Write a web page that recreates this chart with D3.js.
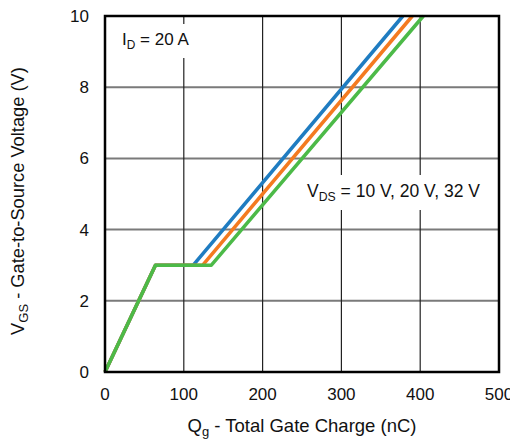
<!DOCTYPE html>
<html><head><meta charset="utf-8">
<script src="https://cdn.jsdelivr.net/npm/d3@7"></script>
<style>body{margin:0;background:#fff}svg{display:block}text{font-family:"Liberation Sans",Arial,sans-serif;fill:#111}</style>
</head><body><svg id="c" width="510" height="439"></svg>
<script>
const xTicks = [0,100,200,300,400,500];
const yTicks = [0,2,4,6,8,10];
const seriesNames = ["VDS = 10 V","VDS = 20 V","VDS = 32 V"];
const seriesColors = ["#1f7cc1","#f47a20","#4cba48"];
const qg10 = [0, 64, 112, 378];
const vgs10 = [0, 3, 3, 10];
const qg20 = [0, 64, 124, 390];
const vgs20 = [0, 3, 3, 10];
const qg32 = [0, 64, 135, 404];
const vgs32 = [0, 3, 3, 10];
const series = [[qg10,vgs10],[qg20,vgs20],[qg32,vgs32]];

const svg = d3.select("#c");
const L=105, R=499, T=16, B=372;
const x = d3.scaleLinear().domain([0,500]).range([L,R]);
const y = d3.scaleLinear().domain([0,10]).range([B,T]);

// grid
svg.append("g").selectAll("line").data(yTicks.slice(1,-1)).join("line")
  .attr("x1",L).attr("x2",R).attr("y1",d=>y(d)).attr("y2",d=>y(d))
  .attr("stroke","#7a7a7a").attr("stroke-width",2);
svg.append("g").selectAll("line").data(xTicks.slice(1,-1)).join("line")
  .attr("x1",d=>x(d)).attr("x2",d=>x(d)).attr("y1",T).attr("y2",B)
  .attr("stroke","#222").attr("stroke-width",1.2);

// annotations with white backgrounds
function label(px,py,main,sub,rest,size){
  const g = svg.append("g");
  const bg = g.append("rect").attr("fill","#fff");
  const t = g.append("text").attr("x",px).attr("y",py).attr("font-size",size);
  t.append("tspan").text(main);
  t.append("tspan").attr("font-size",size*0.7).attr("dy",4).text(sub);
  t.append("tspan").attr("dy",-4).text(rest);
  const bb = t.node().getBBox();
  bg.attr("x",bb.x-3).attr("y",bb.y-6).attr("width",bb.width+6).attr("height",bb.height+12);
}
label(122,45,"I","D"," = 20 A",17);
label(307,197,"V","DS"," = 10 V, 20 V, 32 V",17.5);

// lines
const line = d3.line().x(d=>x(d[0])).y(d=>y(d[1]));
series.forEach((s,i)=>{
  const pts = s[0].map((q,j)=>[q,s[1][j]]);
  svg.append("path").datum(pts).attr("d",line).attr("fill","none")
    .attr("stroke",seriesColors[i]).attr("stroke-width",3.5).attr("stroke-linejoin","round");
});

// frame
svg.append("rect").attr("x",L).attr("y",T).attr("width",R-L).attr("height",B-T)
  .attr("fill","none").attr("stroke","#000").attr("stroke-width",2.5);

// tick labels
svg.append("g").selectAll("text").data(xTicks).join("text")
  .attr("x",d=>x(d)).attr("y",400).attr("text-anchor","middle").attr("font-size",17).text(d=>d);
svg.append("g").selectAll("text").data(yTicks).join("text")
  .attr("x",89).attr("y",d=>y(d)+6).attr("text-anchor","end").attr("font-size",17).text(d=>d);

// axis titles
const xt = svg.append("text").attr("x",302).attr("y",432).attr("text-anchor","middle").attr("font-size",18.5);
xt.append("tspan").text("Q");
xt.append("tspan").attr("font-size",13).attr("dy",4).text("g");
xt.append("tspan").attr("dy",-4).text(" - Total Gate Charge (nC)");
const yt = svg.append("text").attr("transform",`translate(24,201) rotate(-90)`).attr("text-anchor","middle").attr("font-size",18.3);
yt.append("tspan").text("V");
yt.append("tspan").attr("font-size",13).attr("dy",4).text("GS");
yt.append("tspan").attr("dy",-4).text(" - Gate-to-Source Voltage (V)");
</script></body></html>
